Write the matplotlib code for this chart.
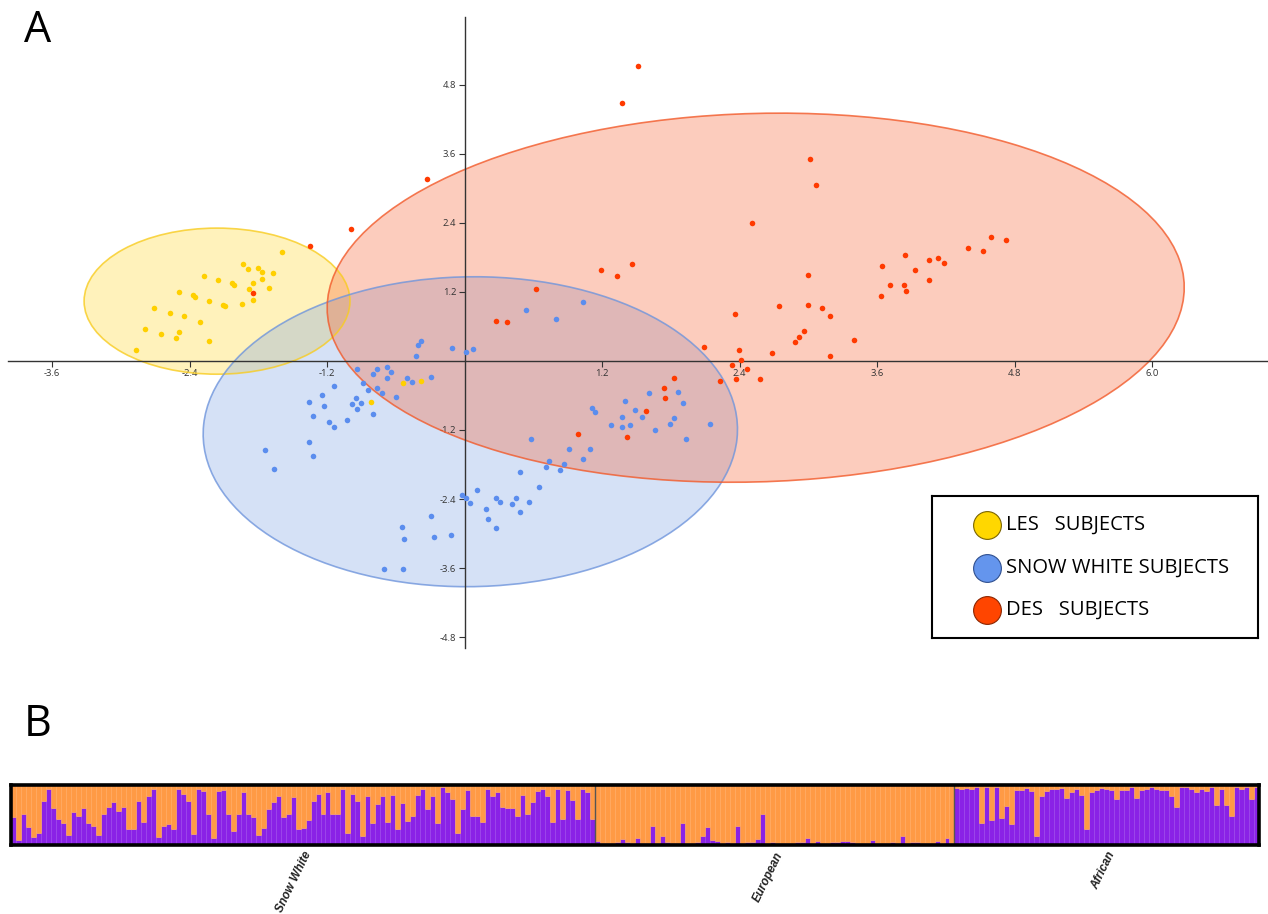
import numpy as np
import matplotlib
matplotlib.use("Agg")
import matplotlib.pyplot as plt
from matplotlib.patches import Ellipse

plt.rcParams["axes.unicode_minus"] = False

# ---------------- Panel A data (PCA scores) ----------------
les_x = [-1.59, -1.93, -1.89, -1.80, -1.77, -1.67, -2.27, -2.15, -2.03, -2.01, -1.85, -1.77,
         -1.88, -1.71, -2.49, -2.37, -2.35, -1.85, -2.23, -1.94, -2.11, -2.09, -2.71, -2.57,
         -2.45, -2.31, -2.79, -2.65, -2.49, -2.52, -2.23, -2.87, -0.54, -0.38, -0.82]
les_y = [1.90, 1.69, 1.60, 1.62, 1.55, 1.53, 1.48, 1.41, 1.36, 1.32, 1.36, 1.43,
         1.25, 1.27, 1.20, 1.15, 1.11, 1.06, 1.04, 0.99, 0.97, 0.96, 0.92, 0.83,
         0.78, 0.68, 0.56, 0.47, 0.50, 0.40, 0.35, 0.19, -0.38, -0.35, -0.71]

sw_x = [-0.38, -0.41, -0.42, -0.11, 0.01, 0.07, -0.94, -0.76, -0.68, -0.64, -0.80, -0.68,
        -0.50, -0.46, -0.29, -0.89, -1.14, -0.84, -0.76, -0.72, -0.60, -1.24, -1.36, -0.95,
        -0.98, -0.90, -0.94, -1.23, -0.80, -1.32, -1.03, -1.18, -1.14, -1.36, -1.74, -1.32,
        -1.66, 0.58, 0.91, 1.09, 1.03, 0.74, 0.71, 0.87, 0.83, 0.48, 0.65, 0.11,
        -0.02, 0.01, 0.05, 0.27, 0.31, 0.45, 0.41, 0.56, 0.19, 0.48, 0.20, 0.27,
        -0.29, -0.55, -0.53, -0.27, -0.12, -0.70, -0.54, 1.11, 1.14, 1.40, 1.61, 1.49,
        1.37, 1.55, 1.28, 1.37, 1.44, 1.66, 1.86, 1.91, 1.83, 1.79, 1.93, 2.14,
        0.54, 0.80, 1.03]
sw_y = [0.35, 0.28, 0.09, 0.23, 0.16, 0.21, -0.14, -0.14, -0.10, -0.19, -0.23, -0.30,
        -0.30, -0.37, -0.28, -0.38, -0.43, -0.50, -0.47, -0.56, -0.63, -0.59, -0.71, -0.64,
        -0.75, -0.73, -0.83, -0.78, -0.92, -0.96, -1.03, -1.06, -1.15, -1.41, -1.55, -1.65,
        -1.88, -1.36, -1.53, -1.53, -1.70, -1.74, -1.84, -1.79, -1.90, -1.93, -2.19, -2.24,
        -2.33, -2.38, -2.47, -2.38, -2.45, -2.38, -2.49, -2.45, -2.57, -2.63, -2.75, -2.90,
        -2.70, -2.89, -3.10, -3.06, -3.03, -3.62, -3.62, -0.82, -0.89, -0.70, -0.56, -0.85,
        -0.97, -0.97, -1.11, -1.15, -1.11, -1.20, -0.54, -0.73, -0.99, -1.10, -1.36, -1.10,
        0.89, 0.73, 1.03]

des_x = [1.51, 1.37, -0.33, -0.99, -1.35, 1.19, 1.33, 1.46, 0.62, 0.27, 0.37, -1.85,
         3.01, 3.07, 2.51, 4.59, 4.72, 4.39, 4.52, 3.84, 4.05, 4.13, 4.18, 3.64,
         3.93, 3.00, 3.71, 3.83, 4.05, 3.85, 3.63, 2.74, 3.00, 3.12, 3.19, 2.36,
         3.40, 2.96, 2.92, 2.88, 2.09, 2.39, 2.68, 3.19, 2.41, 2.33, 2.46, 2.58,
         2.37, 2.23, 1.83, 1.74, 1.75, 1.58, 0.99, 1.42]
des_y = [5.13, 4.49, 3.17, 2.30, 2.00, 1.58, 1.48, 1.69, 1.25, 0.70, 0.68, 1.18,
         3.51, 3.06, 2.40, 2.16, 2.10, 1.97, 1.91, 1.84, 1.76, 1.79, 1.70, 1.65,
         1.58, 1.50, 1.32, 1.32, 1.41, 1.22, 1.13, 0.96, 0.97, 0.92, 0.78, 0.82,
         0.37, 0.52, 0.42, 0.33, 0.24, 0.19, 0.14, 0.09, 0.01, -0.07, -0.14, -0.31,
         -0.31, -0.35, -0.30, -0.47, -0.64, -0.87, -1.27, -1.32]

# ellipse parameters: centre x, centre y, width, height, angle
les_ell = (-2.16, 1.04, 2.32, 2.54, 0.0)
sw_ell = (0.05, -1.23, 4.66, 5.39, -3.0)
des_ell = (2.54, 1.10, 7.51, 6.38, 10.0)

x_ticks = [-3.6, -2.4, -1.2, 1.2, 2.4, 3.6, 4.8, 6.0]
y_ticks = [-4.8, -3.6, -2.4, -1.2, 1.2, 2.4, 3.6, 4.8]
x_tick_labels = ["-3.6", "-2.4", "-1.2", "1.2", "2.4", "3.6", "4.8", "6.0"]
y_tick_labels = ["-4.8", "-3.6", "-2.4", "-1.2", "1.2", "2.4", "3.6", "4.8"]

legend_labels = ["LES   SUBJECTS", "SNOW WHITE SUBJECTS", "DES   SUBJECTS"]

# ---------------- Panel B data (ancestry proportions, purple component) ----------------
groups = ["Snow White", "European", "African"]
snow_white_purple = [
    0.46, 0.08, 0.52, 0.30, 0.14, 0.20, 0.73, 0.93, 0.61, 0.43, 0.36, 0.17, 0.55, 0.49, 0.61,
    0.36, 0.32, 0.17, 0.52, 0.63, 0.72, 0.57, 0.64, 0.27, 0.27, 0.73, 0.38, 0.81, 0.93, 0.14,
    0.32, 0.35, 0.27, 0.94, 0.85, 0.74, 0.18, 0.94, 0.90, 0.51, 0.11, 0.90, 0.92, 0.51, 0.24,
    0.52, 0.89, 0.51, 0.46, 0.17, 0.29, 0.60, 0.71, 0.82, 0.46, 0.52, 0.80, 0.27, 0.29,
    0.42, 0.73, 0.85, 0.52, 0.88, 0.52, 0.51, 0.94, 0.20, 0.85, 0.74, 0.15, 0.81, 0.36, 0.69,
    0.82, 0.39, 0.84, 0.27, 0.70, 0.40, 0.48, 0.84, 0.93, 0.60, 0.81, 0.36, 0.96, 0.89, 0.76,
    0.20, 0.60, 0.92, 0.48, 0.48, 0.38, 0.94, 0.81, 0.88, 0.63, 0.61, 0.61, 0.49, 0.83, 0.52,
    0.72, 0.90, 0.94, 0.81, 0.39, 0.94, 0.43, 0.91, 0.75, 0.43, 0.94, 0.88, 0.43]
european_purple = [
    0.06, 0.03, 0.03, 0.035, 0.05, 0.10, 0.05, 0.04, 0.12, 0.035, 0.04, 0.32, 0.04, 0.15,
    0.05, 0.04, 0.035, 0.36, 0.035, 0.035, 0.05, 0.15, 0.30, 0.09, 0.06, 0.035, 0.05, 0.04,
    0.31, 0.035, 0.05, 0.05, 0.10, 0.52, 0.04, 0.05, 0.04,
    0.035, 0.04, 0.04, 0.05, 0.05, 0.11, 0.04, 0.06, 0.035, 0.035, 0.05, 0.05, 0.06, 0.06,
    0.05, 0.04, 0.035, 0.035, 0.09, 0.04, 0.035, 0.035, 0.05, 0.04, 0.15, 0.04, 0.05, 0.05,
    0.04, 0.035, 0.04, 0.065, 0.035, 0.12, 0.035]
african_purple = [
    0.95, 0.93, 0.95, 0.93, 0.97, 0.36, 0.97, 0.42, 0.97, 0.45, 0.65, 0.35, 0.92, 0.92, 0.95,
    0.90, 0.15, 0.82, 0.90, 0.93, 0.94, 0.95, 0.79, 0.89, 0.94, 0.83, 0.27, 0.89, 0.91, 0.95,
    0.94, 0.92, 0.76, 0.92, 0.92, 0.97, 0.79, 0.92, 0.94, 0.96, 0.94, 0.91, 0.92, 0.82, 0.63,
    0.96, 0.96, 0.93, 0.88, 0.94, 0.90, 0.96, 0.67, 0.94, 0.67, 0.48, 0.96, 0.94, 0.97, 0.77,
    0.97]

# ---------------- styling ----------------
C_LES, C_SW, C_DES = "#FFD000", "#5B8DEE", "#FF3A00"
F_LES, F_SW, F_DES = "#FFD520", "#769EE4", "#F85826"
E_LES, E_SW, E_DES = "#F8CC20", "#6F95DC", "#F25A2A"
PURPLE, ORANGE = "#8A22E6", "#FF9A45"

W, H = 1268, 914
fig = plt.figure(figsize=(W / 100, H / 100), dpi=100)

def fx(px):
    return px / W

def fy(py):
    return 1 - py / H

# ---------- Panel A ----------
ax = fig.add_axes([fx(8), fy(648), fx(1268) - fx(8), fy(17) - fy(648)])
ax.set_xlim(-3.984, 7.01)
ax.set_ylim(-4.99, 5.98)
for (cx, cy, w, h, ang), fc, ec in [(les_ell, F_LES, E_LES), (sw_ell, F_SW, E_SW), (des_ell, F_DES, E_DES)]:
    ax.add_patch(Ellipse((cx, cy), w, h, angle=ang, facecolor=fc, alpha=0.3, edgecolor="none", zorder=1))
    ax.add_patch(Ellipse((cx, cy), w, h, angle=ang, facecolor="none", edgecolor=ec, alpha=0.8, lw=1.2, zorder=2))

ax.scatter(les_x, les_y, s=16, color=C_LES, linewidths=0, zorder=4)
ax.scatter(sw_x, sw_y, s=16, color=C_SW, linewidths=0, zorder=4)
ax.scatter(des_x, des_y, s=16, color=C_DES, linewidths=0, zorder=4)

for s in ["top", "right"]:
    ax.spines[s].set_visible(False)
ax.spines["left"].set_position(("data", 0))
ax.spines["bottom"].set_position(("data", 0))
for s in ["left", "bottom"]:
    ax.spines[s].set_color("#333333")
    ax.spines[s].set_linewidth(1.0)
    ax.spines[s].set_zorder(3)
ax.set_xticks(x_ticks)
ax.set_xticklabels(x_tick_labels)
ax.set_yticks(y_ticks)
ax.set_yticklabels(y_tick_labels)
ax.tick_params(axis="both", direction="out", length=4, width=0.8, color="#333333",
               labelsize=6.8, labelcolor="#333333", pad=2)
for lab in ax.get_xticklabels() + ax.get_yticklabels():
    lab.set_fontfamily("Open Sans")
    lab.set_zorder(5)
ax.patch.set_visible(False)

# legend box
lax = fig.add_axes([fx(932), fy(638), fx(1258) - fx(932), fy(496) - fy(638)])
lax.set_xlim(0, 1)
lax.set_ylim(0, 1)
lax.set_xticks([])
lax.set_yticks([])
for s in lax.spines.values():
    s.set_linewidth(1.5)
    s.set_color("black")
leg_colors = ["#FFD700", "#6495ED", "#FF4500"]
leg_edges = ["#7A6400", "#2F4F8F", "#8B2500"]
rows = [0.796, 0.493, 0.197]
for lbl, col, ec, yy in zip(legend_labels, leg_colors, leg_edges, rows):
    lax.plot([0.169], [yy], marker="o", markersize=20, markerfacecolor=col,
             markeredgecolor=ec, markeredgewidth=0.8, linestyle="none")
    lax.text(0.228, yy, lbl, fontsize=14.5, family="Open Sans", va="center", ha="left")

fig.text(fx(24), fy(8), "A", fontsize=31, family="Open Sans", va="top", ha="left")
fig.text(fx(24), fy(702), "B", fontsize=31, family="Open Sans", va="top", ha="left")

# ---------- Panel B ----------
purple = np.array(snow_white_purple + european_purple + african_purple)
orange = 1 - purple
pos = np.arange(len(purple))
bx = fig.add_axes([fx(11), fy(845), fx(1259) - fx(11), fy(785) - fy(845)])
bx.bar(pos, purple, width=1.0, color=PURPLE, edgecolor="#9B45EA", linewidth=0.4)
bx.bar(pos, orange, bottom=purple, width=1.0, color=ORANGE, edgecolor="#FFA860", linewidth=0.4)
bx.set_xlim(-0.5, len(purple) - 0.5)
bx.set_ylim(0, 1)
bx.set_xticks([])
bx.set_yticks([])
for s in bx.spines.values():
    s.set_linewidth(2.6)
    s.set_color("black")
sizes = [len(snow_white_purple), len(european_purple), len(african_purple)]
edges = np.cumsum([0] + sizes) - 0.5
for e in edges[1:-1]:
    bx.axvline(e, color="#555555", lw=1.0)
centers = (edges[:-1] + edges[1:]) / 2
for c, g in zip(centers, groups):
    bx.text(c, -0.08, g, rotation=64, rotation_mode="anchor", ha="right", va="top",
            fontsize=8.5, fontweight="bold", fontstyle="italic", family="Liberation Sans",
            color="#222222", transform=bx.get_xaxis_transform())

fig.savefig("out.png", dpi=100)
